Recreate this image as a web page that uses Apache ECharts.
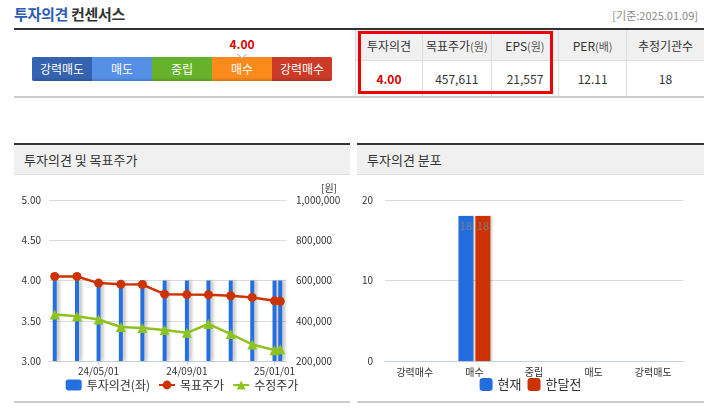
<!DOCTYPE html>
<html>
<head>
<meta charset="utf-8">
<script src="https://cdn.jsdelivr.net/npm/echarts@6/dist/echarts.min.js"></script>
<style>
  body { margin:0; width:704px; height:410px; background:#fff; position:relative; overflow:hidden;
         font-family:"Noto Sans CJK KR","Noto Sans",sans-serif; color:#333; }
  .abs { position:absolute; }
  #title { left:14px; top:3px; font-size:15px; font-weight:bold; letter-spacing:-0.3px; }
  #title .blue { color:#2c5cb4; }
  #baseDate { right:6px; top:7px; font-size:11px; color:#888; }
  #topLine { left:14px; top:28px; width:690px; height:2px; background:#333; }
  #bottomLine { left:14px; top:96px; width:690px; height:2px; background:#ccc; }
  #scale { left:32px; top:57px; width:300px; height:24px; display:flex; border-radius:2px; overflow:hidden; }
  #scale div { flex:1; color:#fff; font-size:12px; text-align:center; line-height:24px; }
  #scoreText { top:35px; width:40px; margin-left:-20px; text-align:center; color:#d50000; font-weight:bold; font-size:12px; }
  #marker { top:54px; width:0; height:0; margin-left:-5px; border-left:5px solid transparent; border-right:5px solid transparent; border-top:5px solid #999; }
  #marker i { position:absolute; left:-4px; top:-5px; border-left:4px solid transparent; border-right:4px solid transparent; border-top:4px solid #fff; }
  table { border-collapse:collapse; font-size:12px; }
  #summary { left:355px; top:30px; width:349px; }
  #summary th { background:#f0f0f0; font-weight:normal; height:30px; border-left:1px solid #ddd; border-bottom:1px solid #ddd; padding:0; white-space:nowrap; }
  #summary td { height:35px; text-align:center; border-left:1px solid #ddd; padding:0; }
  #summary small { font-size:11px; color:#555; }
  #redBox { left:358px; top:31px; width:189px; height:57px; border:3px solid #e00; }
  .panelTop { top:143px; height:2px; background:#333; }
  .panelHead { top:145px; height:30px; background:#f0f0f0; border-bottom:1px solid #ddd; font-size:13px; line-height:30px; padding-left:10px; box-sizing:border-box; }
  .panelBottom { top:401px; height:2px; background:#ccc; }
  .chart { top:176px; height:224px; }
</style>
</head>
<body>
<div id="title" class="abs"><span class="blue">투자의견</span> 컨센서스</div>
<div id="baseDate" class="abs">[기준:2025.01.09]</div>
<div id="topLine" class="abs"></div>
<div id="bottomLine" class="abs"></div>
<div id="scale" class="abs"></div>
<div id="scoreText" class="abs"></div>
<div id="marker" class="abs"><i></i></div>
<table id="summary" class="abs"><thead><tr id="sumHead"></tr></thead><tbody><tr id="sumBody"></tr></tbody></table>
<div id="redBox" class="abs"></div>

<div class="abs panelTop" style="left:14px;width:336px"></div>
<div class="abs panelHead" style="left:14px;width:336px">투자의견 및 목표주가</div>
<div class="abs panelBottom" style="left:14px;width:336px"></div>
<div id="chartLeft" class="abs chart" style="left:14px;width:336px"></div>

<div class="abs panelTop" style="left:357px;width:347px"></div>
<div class="abs panelHead" style="left:357px;width:347px">투자의견 분포</div>
<div class="abs panelBottom" style="left:357px;width:347px"></div>
<div id="chartRight" class="abs chart" style="left:357px;width:347px"></div>

<script>
// consensus scale
var scaleLabels = ['강력매도', '매도', '중립', '매수', '강력매수'];
var scaleColors = ['#3563b0', '#5690e6', '#66b32b', '#fb8a1d', '#cb3b27'];
var consensusScore = 4.00;

// summary table
var summaryHeaders = ['투자의견', '목표주가<small>(원)</small>', 'EPS<small>(원)</small>', 'PER<small>(배)</small>', '추정기관수'];
var summaryValues = ['4.00', '457,611', '21,557', '12.11', '18'];
var summaryWidths = [67, 68, 68, 68, 78];

// opinion & target price history
var historyDates = ['2024-03-01', '2024-04-01', '2024-05-01', '2024-06-01', '2024-07-01', '2024-08-01',
                    '2024-09-01', '2024-10-01', '2024-11-01', '2024-12-01', '2025-01-01', '2025-01-09'];
var opinionValues = [4, 4, 4, 4, 4, 4, 4, 4, 4, 4, 4, 4];
var targetPrices = [620000, 620000, 587000, 581000, 580000, 532000, 530000, 529000, 524000, 516000, 499000, 497000];
var adjustedPrices = [431000, 422000, 406000, 369000, 364000, 354000, 340000, 384000, 334000, 282000, 254000, 259000];
var xTickDates = ['2024-05-01', '2024-09-01', '2025-01-01'];

// opinion distribution
var distCategories = ['강력매수', '매수', '중립', '매도', '강력매도'];
var distNow = [0, 18, 0, 0, 0];
var distMonthAgo = [0, 18, 0, 0, 0];

// ---- top widget
var scaleBox = document.getElementById('scale');
scaleLabels.forEach(function (t, i) {
	var d = document.createElement('div');
	d.textContent = t;
	d.style.background = 'linear-gradient(' + scaleColors[i] + ' 0%, ' + scaleColors[i] + ' 85%, rgba(0,0,0,0.15) 100%)';
	d.style.backgroundColor = scaleColors[i];
	scaleBox.appendChild(d);
});
var markerX = 32 + (consensusScore - 0.5) * 60;
document.getElementById('scoreText').style.left = markerX + 'px';
document.getElementById('scoreText').textContent = consensusScore.toFixed(2);
document.getElementById('marker').style.left = markerX + 'px';

var head = document.getElementById('sumHead'), body = document.getElementById('sumBody');
summaryHeaders.forEach(function (h, i) {
	var th = document.createElement('th');
	th.innerHTML = h;
	th.style.width = summaryWidths[i] + 'px';
	head.appendChild(th);
	var td = document.createElement('td');
	td.textContent = summaryValues[i];
	if (i === 0) { td.style.color = '#d50000'; td.style.fontWeight = 'bold'; }
	body.appendChild(td);
});

// ---- left chart (x is a value axis holding timestamps)
function ts(s) { return new Date(s + 'T00:00:00Z').getTime(); }
function pad(n) { return (n < 10 ? '0' : '') + n; }
function fmtDate(v) {
	var d = new Date(v);
	return pad(d.getUTCFullYear() % 100) + '/' + pad(d.getUTCMonth() + 1) + '/' + pad(d.getUTCDate());
}
function zip(vals) { return historyDates.map(function (d, i) { return [ts(d), vals[i]]; }); }

var fontFam = '"Noto Sans CJK KR","Noto Sans",sans-serif';
var leftChart = echarts.init(document.getElementById('chartLeft'));
leftChart.setOption({
	textStyle: { fontFamily: fontFam },
	animation: false,
	grid: { left: 35, right: 64, top: 24, bottom: 39 },
	graphic: [{ type: 'text', right: 13, top: 7, style: { text: '[원]', fontSize: 10, fill: '#333', fontFamily: fontFam } }],
	legend: {
		bottom: 4, left: 'center', itemGap: 8, itemWidth: 16, itemHeight: 11,
		textStyle: { fontSize: 12, color: '#333' },
		data: [
			{ name: '투자의견(좌)', icon: 'roundRect', itemStyle: { shadowBlur: 0, shadowOffsetX: 0 } },
			'목표주가', '수정주가'
		]
	},
	xAxis: {
		type: 'value',
		min: ts('2024-02-22'), max: ts('2025-01-17'),
		axisLine: { lineStyle: { color: '#c8d0dc' } },
		axisTick: { customValues: xTickDates.map(ts), length: 4, lineStyle: { color: '#c8d0dc' } },
		axisLabel: { customValues: xTickDates.map(ts), formatter: fmtDate, fontSize: 10, color: '#333', margin: 5 },
		splitLine: { show: false }
	},
	yAxis: [
		{
			type: 'value', min: 3, max: 5, interval: 0.5,
			axisLine: { show: false }, axisTick: { show: false },
			axisLabel: { formatter: function (v) { return v.toFixed(2); }, fontSize: 10, color: '#333', margin: 8 },
			splitLine: { lineStyle: { color: '#dcdcdc' } }
		},
		{
			type: 'value', min: 200000, max: 1000000, interval: 200000,
			axisLine: { show: false }, axisTick: { show: false },
			axisLabel: { formatter: function (v) { return v.toLocaleString('en-US'); }, fontSize: 10, color: '#333', margin: 10 },
			splitLine: { show: false }
		}
	],
	series: [
		{
			name: '투자의견(좌)', type: 'bar', yAxisIndex: 0, barWidth: 4, clip: true,
			itemStyle: { color: '#2470e0', shadowColor: 'rgba(0,0,0,0.22)', shadowOffsetX: 3, shadowBlur: 3 },
			data: zip(opinionValues)
		},
		{
			name: '목표주가', type: 'line', yAxisIndex: 1, symbol: 'circle', symbolSize: 9,
			lineStyle: { color: '#cc3300', width: 2.5 }, itemStyle: { color: '#cc3300' },
			data: zip(targetPrices)
		},
		{
			name: '수정주가', type: 'line', yAxisIndex: 1, symbol: 'triangle', symbolSize: 10,
			lineStyle: { color: '#8dc21f', width: 2.5 }, itemStyle: { color: '#8dc21f' },
			data: zip(adjustedPrices)
		}
	]
});

// ---- right chart
var rightChart = echarts.init(document.getElementById('chartRight'));
var barLabel = {
	show: true, position: 'insideTop', distance: 4, fontSize: 11, color: 'rgba(125,125,125,0.95)',
	formatter: function (p) { return p.value ? p.value : ''; }
};
rightChart.setOption({
	textStyle: { fontFamily: fontFam },
	animation: false,
	grid: { left: 28, right: 21, top: 24, bottom: 39 },
	legend: {
		bottom: 4, left: 'center', itemGap: 6, itemWidth: 13, itemHeight: 13, icon: 'roundRect',
		textStyle: { fontSize: 13, color: '#333' }
	},
	xAxis: {
		type: 'category', data: distCategories,
		axisLine: { lineStyle: { color: '#c5cfe0' } },
		axisTick: { length: 4, lineStyle: { color: '#c5cfe0' } },
		axisLabel: { fontSize: 10, color: '#333', margin: 6 }
	},
	yAxis: {
		type: 'value', min: 0, max: 20, interval: 10,
		axisLine: { show: false }, axisTick: { show: false },
		axisLabel: { fontSize: 10, color: '#333', margin: 12 },
		splitLine: { lineStyle: { color: '#dcdcdc' } }
	},
	series: [
		{
			name: '현재', type: 'bar', barWidth: 15, barGap: '13%', data: distNow, label: barLabel,
			itemStyle: { color: '#236ddc', shadowColor: 'rgba(0,0,0,0.2)', shadowOffsetX: 2, shadowBlur: 2 }
		},
		{
			name: '한달전', type: 'bar', barWidth: 15, data: distMonthAgo, label: barLabel,
			itemStyle: { color: '#cc3300', shadowColor: 'rgba(0,0,0,0.2)', shadowOffsetX: 2, shadowBlur: 2 }
		}
	]
});
</script>
</body>
</html>
